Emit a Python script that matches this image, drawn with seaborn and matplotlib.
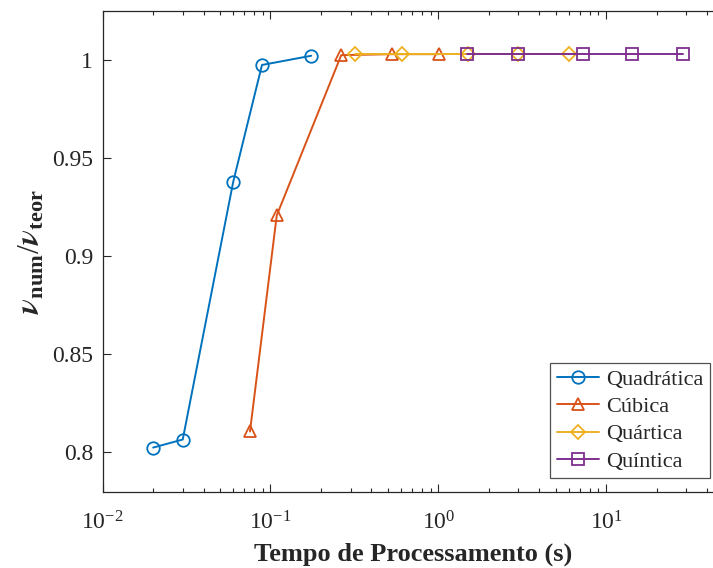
import numpy as np
import pandas as pd
import seaborn as sns
import matplotlib.pyplot as plt
from matplotlib.ticker import LogLocator, NullFormatter

# values (x = processing time in s, y = nu_num/nu_teor)
quad_t = [0.020, 0.030, 0.060, 0.089, 0.175]
quad_v = [0.8025, 0.8066, 0.938, 0.9975, 1.0022]
cub_t = [0.0755, 0.109, 0.264, 0.531, 1.01]
cub_v = [0.8107, 0.9208, 1.0025, 1.003, 1.003]
quar_t = [0.319, 0.610, 1.51, 3.0, 5.98]
quar_v = [1.003, 1.003, 1.003, 1.003, 1.003]
quin_t = [1.49, 2.97, 7.24, 14.2, 28.6]
quin_v = [1.003, 1.003, 1.003, 1.003, 1.003]

labels = ["Quadrática", "Cúbica", "Quártica", "Quíntica"]
colors = ["#0072BD", "#D95319", "#EDB120", "#7E2F8E"]
markers = ["o", "^", "D", "s"]
msizes = [9, 9, 7.5, 8]
yticks = [0.8, 0.85, 0.9, 0.95, 1.0]
ytick_labels = ["0.8", "0.85", "0.9", "0.95", "1"]

sns.set_style("ticks")
plt.rcParams["font.family"] = ["Liberation Serif", "DejaVu Serif"]
plt.rcParams["mathtext.fontset"] = "custom"
plt.rcParams["mathtext.rm"] = "Liberation Serif"
plt.rcParams["mathtext.it"] = "STIXGeneral:italic:bold"
plt.rcParams["mathtext.bf"] = "Liberation Serif:bold"

fig = plt.figure(figsize=(7.13, 5.68), dpi=100)
# axes run a little past the right edge of the picture, as in the reference
ax = fig.add_axes([0.144, 0.1343, 0.8705, 0.8463])

series = [(quad_t, quad_v), (cub_t, cub_v), (quar_t, quar_v), (quin_t, quin_v)]
for (t, v), lab, c, m, ms in zip(series, labels, colors, markers, msizes):
    df = pd.DataFrame({"t": t, "v": v})
    sns.lineplot(data=df, x="t", y="v", ax=ax, color=c, marker=m, label=lab,
                 markersize=ms, markerfacecolor="none", markeredgecolor=c,
                 markeredgewidth=1.3, linewidth=1.4, sort=False)

ax.set_xscale("log")
ax.set_xlim(0.01, 50)
ax.set_ylim(0.78, 1.025)
ax.set_yticks(yticks)
ax.set_yticklabels(ytick_labels)
ax.xaxis.set_major_locator(LogLocator(base=10, numticks=10))
ax.xaxis.set_minor_locator(LogLocator(base=10, subs=np.arange(2, 10), numticks=10))
ax.xaxis.set_minor_formatter(NullFormatter())

ax.tick_params(axis="both", which="both", direction="in", top=True, right=True,
               labelsize=17, color="#262626", width=0.8)
ax.tick_params(axis="both", which="major", length=6)
ax.tick_params(axis="y", which="major", pad=7)
ax.tick_params(axis="x", which="major", pad=14)
ax.tick_params(axis="x", which="minor", length=3)
for s in ax.spines.values():
    s.set_color("#262626")
    s.set_linewidth(0.9)

ax.set_xlabel("Tempo de Processamento (s)", fontsize=19, fontweight="bold", labelpad=6)
ax.set_ylabel(r"$\nu_{\mathbf{num}}/\nu_{\mathbf{teor}}$", fontsize=23, labelpad=4)

leg = ax.legend(loc="lower right", fontsize=16, frameon=True, fancybox=False,
                edgecolor="#262626", borderpad=0.3, labelspacing=0.3,
                handlelength=1.9, handletextpad=0.3, borderaxespad=0.6)
leg.get_frame().set_linewidth(0.9)

fig.savefig("out.png", dpi=100)
